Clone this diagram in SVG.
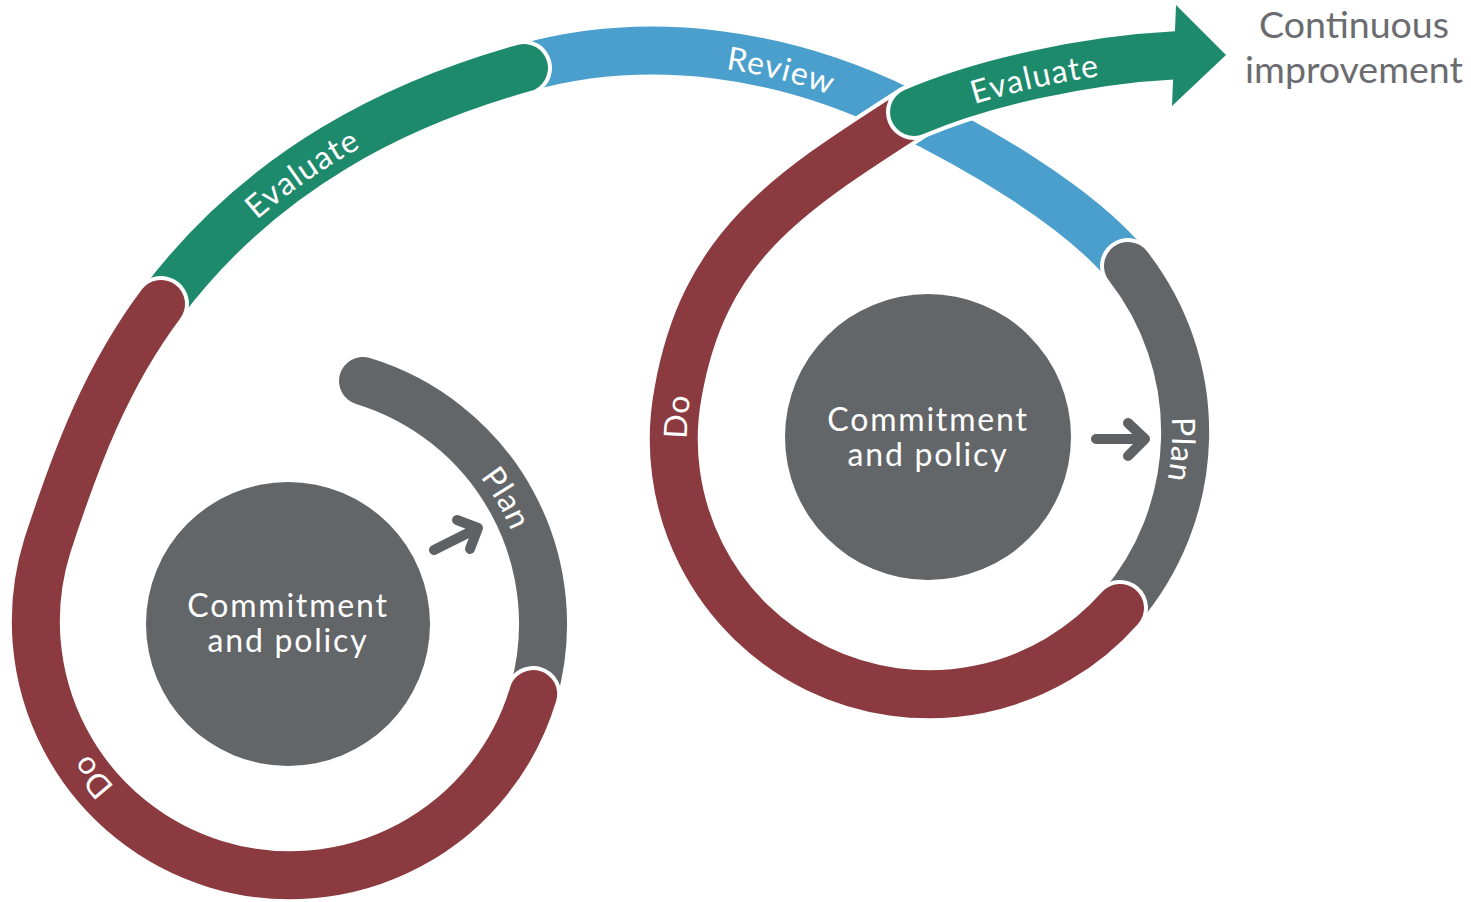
<svg xmlns="http://www.w3.org/2000/svg" width="1471" height="902" viewBox="0 0 1471 902">
  <style>
    .outline { fill: none; stroke: #ffffff; stroke-width: 56; stroke-linecap: round; }
    .band { fill: none; stroke-width: 48; stroke-linecap: round; }
    .grey { stroke: #636669; }
    .red { stroke: #8b3a3f; }
    .green { stroke: #1e8a6c; }
    .blue { stroke: #4b9fcd; }
    .label { font-family: Lato, "Noto Sans", sans-serif; font-size: 32px; fill: #ffffff; letter-spacing: 1.5px; dominant-baseline: central; text-anchor: middle; }
    .hub { fill: #636669; }
    .hub-text { font-family: Lato, "Noto Sans", sans-serif; font-size: 32px; fill: #ffffff; letter-spacing: 1.8px; text-anchor: middle; }
    .pointer { fill: none; stroke: #5f6265; stroke-width: 10; stroke-linecap: round; stroke-linejoin: round; }
    .outcome { font-family: Lato, "Noto Sans", sans-serif; font-size: 37.5px; fill: #6b6c6f; text-anchor: middle; }
  </style>
  <defs>
    <!-- centre lines of the spiral, in drawing order along the cycle -->
    <path id="track-plan-1" d="M363,381 A254,254 0 0 1 533.2,694"/>
    <path id="track-do-1" d="M533.2,694 A254,254 0 1 1 47.4,545.5 C76.8,455.2 107,376 161,304"/>
    <path id="track-evaluate-1" d="M161,304 C263,168 399,103 524,68"/>
    <path id="track-review" d="M524,68 C649,33 783,53 900,110 C972,145 1077,204 1128,266"/>
    <path id="track-plan-2" d="M1128,266 A270,270 0 0 1 1120,608"/>
    <path id="track-do-2" d="M1120,608 A255,255 0 0 1 678,393 C704,245 788,193 914,112"/>
    <path id="track-evaluate-2" d="M914,112 C980,84 1080,60 1180,55"/>
  </defs>

  <!-- stages, layered so each rounded start overlaps the stage before it -->
  <g id="stage-plan-1">
    <use href="#track-plan-1" class="outline"/>
    <use href="#track-plan-1" class="band grey"/>
    <text class="label"><textPath href="#track-plan-1" startOffset="191">Plan</textPath></text>
  </g>

  <g id="stage-review">
    <use href="#track-review" class="outline"/>
    <use href="#track-review" class="band blue"/>
    <text class="label"><textPath href="#track-review" startOffset="261">Review</textPath></text>
  </g>

  <g id="stage-evaluate-1">
    <use href="#track-evaluate-1" class="outline"/>
    <use href="#track-evaluate-1" class="band green"/>
    <text class="label"><textPath href="#track-evaluate-1" startOffset="194">Evaluate</textPath></text>
  </g>

  <g id="stage-do-1">
    <use href="#track-do-1" class="outline"/>
    <use href="#track-do-1" class="band red"/>
    <text class="label"><textPath href="#track-do-1" startOffset="555">Do</textPath></text>
  </g>

  <g id="stage-plan-2">
    <use href="#track-plan-2" class="outline"/>
    <use href="#track-plan-2" class="band grey"/>
    <text class="label"><textPath href="#track-plan-2" startOffset="197">Plan</textPath></text>
  </g>

  <g id="stage-do-2">
    <use href="#track-do-2" class="outline"/>
    <use href="#track-do-2" class="band red"/>
    <text class="label"><textPath href="#track-do-2" startOffset="640">Do</textPath></text>
  </g>

  <g id="stage-evaluate-2">
    <use href="#track-evaluate-2" class="outline"/>
    <use href="#track-evaluate-2" class="band green"/>
    <polygon points="1176,5 1226,55 1172,106" fill="#1e8a6c"/>
    <text class="label"><textPath href="#track-evaluate-2" startOffset="126">Evaluate</textPath></text>
  </g>

  <!-- central hubs -->
  <g id="commitment-1">
    <circle class="hub" cx="288" cy="624" r="142"/>
    <text class="hub-text" x="288" y="617">Commitment<tspan x="288" dy="35">and policy</tspan></text>
  </g>

  <g id="commitment-2">
    <circle class="hub" cx="928" cy="437" r="143"/>
    <text class="hub-text" x="928" y="431">Commitment<tspan x="928" dy="35">and policy</tspan></text>
  </g>

  <g id="outcome">
    <text class="outcome" x="1354" y="37.5">Continuous<tspan x="1354" dy="45">improvement</tspan></text>
  </g>

  <!-- hub to plan pointers -->
  <g id="connectors">
    <path class="pointer" d="M434,550 L478,528 M457,520 L478,528 L470,549"/>
    <path class="pointer" d="M1096,439 L1145,439 M1128,423 L1145,439 L1128,456"/>
  </g>
</svg>
